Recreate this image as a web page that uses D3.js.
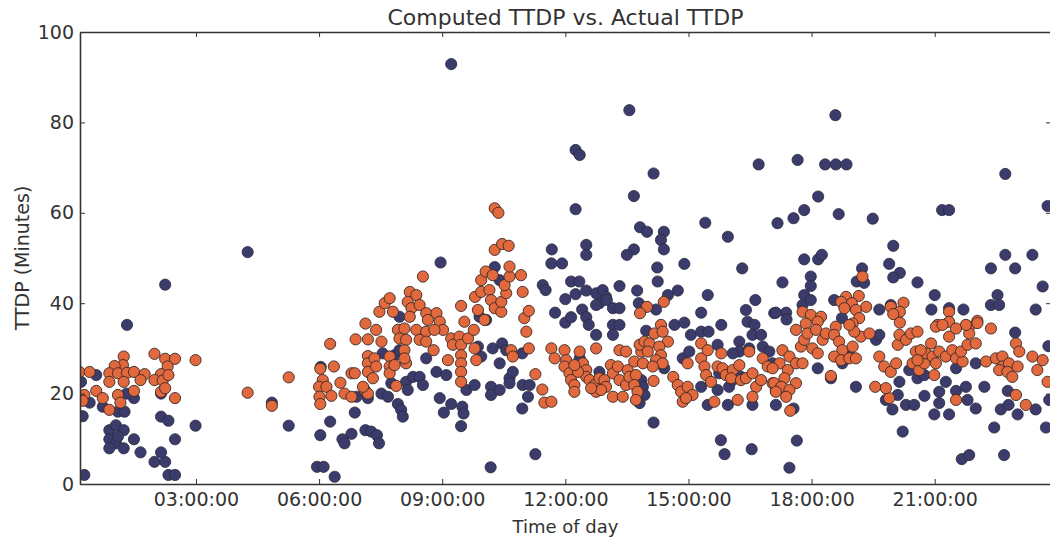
<!DOCTYPE html>
<html>
<head>
<meta charset="utf-8">
<script src="https://cdn.jsdelivr.net/npm/d3@7/dist/d3.min.js"></script>
<style>
  body { margin: 0; background: #fff; }
  svg { display: block; font-family: "DejaVu Sans", sans-serif; }
</style>
</head>
<body>
<svg id="chart" width="1050" height="542"></svg>
<script>
// time of day in hours, TTDP in minutes
const actualPoints = [
  [2.25,44.1],[1.32,35.2],[0.28,2],[2.33,2],[2.49,2],[1.99,4.9],[2.25,4.9],[2.15,7],[1.65,7],[2.49,9.9],[1.49,9.9],
  [0.89,11.9],[1.05,13.0],[1.24,11.9],[0.89,9.9],[1.05,9.0],[0.89,7.9],[1.24,7.9],[1.10,10.5],
  [2.15,14.9],[2.33,14.0],[0.24,15],[1.10,16],[1.26,16],[0.73,17.1],[0.41,18.0],[1.49,19],
  [2.99,12.9],[5.26,12.9],[4.85,18],[6.03,10.8],[5.95,3.8],[6.11,3.8],[0.57,24.1],[0.2,22.6],[2.15,20],[1.31,20],[6.04,25.9],[4.26,51.3],
  [9.22,92.9],[8.96,49],[6.38,1.6],[6.27,13.8],[6.57,9.9],[6.62,9.0],[6.79,11.1],[7.13,11.9],[7.27,11.6],[7.41,10.8],[7.46,9.0],[6.87,15.8],[10.18,3.7],[9.46,12.8],
  [7.92,17.7],[8.0,16.4],[8.04,14.9],[9.04,15.8],[9.22,17.7],[9.49,17.1],[9.52,15.6],[8.94,19],[8.86,24.8],[9.10,24.1],[8.61,27.8],
  [8.12,22.6],[8.29,23.7],[8.45,23.7],[8.53,21.9],[8.16,20.8],[7.52,20],[7.68,19.3],[7.76,22.3],[7.19,19],[6.91,19.3],[7.84,28.5],[7.96,29.6],[7.55,28.9],[7.96,37],
  [9.91,37],[10.07,36.3],[10.28,48],[10.40,45.1],[10.23,30],[10.46,31.1],[10.56,29.6],[10.40,26.7],
  [10.19,21.5],[10.19,19.7],[10.40,20.8],[10.64,23.4],[10.72,24.8],[10.64,22.3],[10.96,21.9],[10.95,16.7],[11.09,19.3],[10.95,28.9],[11.13,21.9],
  [9.59,20.8],[9.79,21.9],[9.95,28.2],[9.87,30.4],
  [12.25,73.9],[12.35,72.8],[14.15,68.7],[16.71,70.7],[13.67,63.7],[12.25,60.8],[15.41,57.8],[17.17,57.7],
  [13.82,56.8],[13.99,55.8],[14.40,55.8],[14.33,54],[14.40,51.9],[15.96,54.7],[12.51,52.9],[12.51,50.7],
  [11.67,51.9],[11.66,48.8],[11.92,48.8],[13.67,51.9],[13.50,50.7],[14.90,48.7],[14.24,47.9],[14.25,44.8],[16.31,47.7],
  [11.45,44],[11.52,42.9],[12.14,44.8],[12.34,44.8],[12.25,42],[12.0,40.9],[12.51,42.8],
  [12.75,42.2],[12.91,42.9],[12.99,41.4],[12.83,40],[12.75,39.6],[13.01,40.7],[13.32,43.8],[13.75,42.8],[14.74,42.8],[14.50,41.8],[15.47,41.8],[16.63,40.7],[16.40,38.5],
  [11.75,37.9],[12.0,35.7],[12.14,36.9],[12.41,38.6],[12.51,36.9],[12.57,35.2],[13.16,38.9],[13.32,38.9],[13.16,35.2],[13.32,35.2],[13.79,40],[14.21,38.6],[15.31,37.9],
  [15.80,35.2],[16.44,35.9],[16.61,35.2],[17.09,37.8],[14.66,35.2],[14.90,35.7],[13.56,82.7],
  [11.27,6.6],[14.15,13.6],[15.79,9.7],[15.88,6.6],[16.54,7.7],
  [12.75,33],[13.16,33],[13.97,33.9],[15.06,33],[15.31,33.7],[15.49,33.7],[16.56,33],[16.77,33],
  [16.24,31.5],[16.24,29.3],[16.08,28.9],[15.71,30.8],[16.48,30],[16.81,30.4],[16.97,29.3],
  [12.35,27.8],[12.83,24.8],[13.85,23],[13.89,21.5],[13.93,19.7],[13.81,17.9],[14.41,25.6],[14.86,27.8],[15.02,29.3],
  [15.31,21.5],[15.71,20.8],[15.99,21.5],[16.08,23],[15.47,17.5],[15.96,17.5],[16.56,17.5],[17.13,17.5],[15.75,24.5],[16.28,23.7],
  [17.66,71.7],[18.33,70.7],[18.59,70.7],[18.85,70.7],[22.72,68.6],[18.16,63.6],[17.82,60.6],[17.56,58.8],[18.66,59.7],[19.49,58.7],[21.18,60.6],[21.35,60.6],[23.75,61.5],
  [19.99,52.7],[17.82,49.7],[18.16,49.7],[18.25,50.7],[19.89,48.7],[20.15,46.7],[19.99,45.7],[19.23,47.7],[20.58,44.6],[17.98,45.9],[17.98,43.8],[17.29,44.6],[19.10,44.8],[19.28,44.5],
  [22.37,47.7],[22.72,50.7],[22.96,47.7],[23.38,50.7],[23.63,43.7],[22.53,41.8],[22.37,39.6],[22.57,39.6],[21.00,41.8],[17.82,41.8],[17.78,39.6],[17.98,40.7],
  [17.13,37.9],[17.38,37.9],[17.39,36.4],[18.55,40.7],[19.65,38.6],[19.93,39.6],[20.92,38.6],[21.35,38.9],[21.70,38.6],[23.46,38.6],[18.74,36.7],[18.58,81.6],
  [17.46,3.6],[17.64,9.6],[20.22,11.6],[21.66,5.5],[21.84,6.4],[22.69,6.4],[22.45,12.5],[23.71,12.5],[17.56,16.7],
  [19.08,21.5],[18.15,25.6],[18.47,23.4],[18.75,26.7],[18.92,28.5],[19.57,31.9],[19.65,33],
  [20.14,22.6],[19.97,16.5],[19.81,18.6],[20.10,19.7],[20.30,17.5],[20.50,17.5],[20.38,25.2],[20.58,23.4],[20.75,24.1],[20.66,26.7],
  [20.75,19.5],[20.99,15.4],[21.11,20.4],[21.35,15.4],[21.11,17.9],[21.27,22.6],
  [21.52,20.6],[21.76,21.5],[21.80,18.6],[22.0,16.7],[21.52,25.6],[22.0,26.7],[22.21,21.5],
  [22.61,16.5],[22.80,17.5],[23.02,15.4],[22.78,20.6],[23.46,16.5],[22.96,33.5],[23.77,30.5],[23.79,18.6],[17.05,26.7]
];

const computedPoints = [
  [1.24,28.2],[1.99,28.8],[2.25,27.7],[2.49,27.7],[2.99,27.4],[1.22,26.3],[1.02,26.1],[2.31,26],[2.15,24.3],[0.16,24.8],[0.41,24.8],
  [0.89,24.5],[1.10,24.5],[1.32,24.6],[1.49,24.8],[1.75,24.3],[1.24,22.6],[0.89,22.6],[1.65,23],
  [1.99,23],[2.19,22.9],[2.33,24.1],[2.15,20.4],[2.25,21.2],[0.57,20.6],[0.28,19.7],[0.24,18.4],[0.73,19],[1.10,19.7],[1.16,18],[0.89,16.4],[1.49,20.6],[2.49,19],[4.26,20.2],[5.26,23.6],[4.85,17.3],
  [6.27,31],[6.03,25.5],[6.09,23],[6.0,21.5],[6.01,19.3],[6.03,17.7],[6.18,21.5],[6.30,19.5],[6.36,26],[6.52,22.4],[6.62,20],[6.79,19.3],[6.89,32],[6.79,24.5],[6.87,24.5],
  [7.13,35.5],[7.19,32],[7.39,34.1],[7.52,31.5],[7.11,20.8],[7.19,20],[7.07,21.5],
  [7.19,28.3],[7.19,26.7],[7.19,24.8],[7.31,23.4],[7.35,27.8],[7.39,26],
  [7.72,28.2],[7.72,26],[7.72,24.5],[7.84,26.3],[7.88,21.7],[7.47,38.1],[7.60,40],[7.72,41.1],[7.80,38.1],
  [7.92,34.1],[8.08,34.4],[7.96,32.2],[8.12,31.9],[8.08,29.6],[8.12,26.7],[8.08,27.8],
  [8.21,42.5],[8.37,41.8],[8.16,40.3],[8.25,38.9],[8.45,39.6],[8.21,37],
  [8.37,34.1],[8.61,37.8],[8.65,36.3],[8.61,33.7],[8.45,31.9],[8.61,31.5],
  [8.86,37.8],[8.94,35.9],[9.02,34.1],[8.81,34.1],[8.79,29.6],[8.53,45.9],[9.14,27.4],[9.22,32.2],[9.26,30.8],[9.46,39.4],[9.54,35.9],
  [9.42,32.6],[9.46,30.8],[9.46,28.5],[9.46,26.7],[9.46,24.8],[9.46,22.6],
  [9.63,32.2],[9.77,34.1],[9.79,30],[9.83,27.4],
  [9.80,41.4],[9.95,42.5],[9.87,38.5],[10.03,36.3],[9.95,45.1],[10.06,47],[10.23,46.2],
  [10.15,42.9],[10.19,40.7],[10.28,38.9],[10.44,38.1],[10.44,40.3],[10.56,42.2],[10.52,44],[10.64,45.9],[10.64,48.1],
  [10.28,51.8],[10.46,53.1],[10.62,52.7],[10.28,61],[10.37,60],
  [10.92,46.2],[10.96,42.5],[11.0,36.7],[11.05,33.7],[10.68,29.6],[10.72,28.2],
  [11.11,38.3],[13.99,39.2],[13.82,37.8],[14.40,40.3],[14.33,35.2],
  [11.11,30],[11.27,24.3],[11.44,20.9],[11.49,18],[11.66,18.2],
  [11.66,30],[11.74,27.8],[11.98,29.6],[12.02,27.4],[11.98,26],[12.10,24.5],[12.14,23],[12.22,21.9],[12.22,20.4],[12.35,29.3],[12.43,26.7],[12.51,25.2],[12.51,23.7],[12.31,24.8],[12.22,26.3],
  [12.59,23],[12.71,21.9],[12.75,20.4],[12.83,23.4],[12.95,23],[12.99,21.5],[12.87,20.8],[12.63,21.2],
  [12.75,30],[13.11,26.3],[13.16,24.5],[13.28,26],[13.32,23],[13.16,19.3],[13.40,19.3],[13.48,21.9],[13.52,25.2],[13.56,23.7],[13.68,27.1],[13.72,24.1],[13.68,21.9],[13.76,20.4],[13.72,18.6],[13.89,26.7],[13.85,29.3],
  [13.32,29.6],[13.48,29.3],
  [13.81,30.8],[13.93,31.5],[14.05,31.1],[14.01,29.3],[14.17,33.3],[14.37,33.7],[14.50,31.5],[14.29,30.4],[14.33,28.5],[14.21,27.4],[14.37,26.7],[14.13,26],
  [14.15,22.8],[14.63,23.7],[14.74,21.9],[14.82,20.4],[14.86,18.2],[14.98,21.5],[15.10,19.7],[14.94,19],
  [14.98,26.7],[15.31,31.1],[15.31,27.8],[15.47,29.6],[15.39,26],[15.43,24.1],[15.55,22.6],[15.63,18.2],
  [15.80,28.9],[15.71,26],[15.83,25.6],[15.91,24.1],[16.08,25.2],[16.04,23.4],[16.24,26.3],[16.28,23],[16.20,18.6],[16.40,23.4],[16.56,24.5],[16.65,21.5],[16.56,19.3],[16.77,23],[16.81,27.8],[16.93,26],[17.05,22.3],[17.13,20.8],[16.48,29.3],
  [19.24,45.9],[18.84,41.4],[19.15,41.6],[18.72,40.3],[18.98,40],[19.33,39.2],[19.08,38.5],[18.80,38.9],[19.16,36.7],[19.00,35.5],
  [17.78,38.1],[17.98,37.4],[18.23,37],[18.15,35.9],[17.86,35.5],
  [20.24,40.1],[19.93,39.2],[20.15,38.1],[19.99,37.6],[20.15,35.7],
  [21.35,38.1],[21.35,35.9],[21.07,35.2],[22.04,36.1],[22.37,34.4],[21.84,34.8],[18.59,34.8],
  [17.29,29.6],[17.46,28.2],[17.22,26.7],[17.05,25.6],[17.42,25.2],[17.62,26.7],[17.78,26.7],[17.34,23.4],[17.09,22.3],[17.26,21.5],[17.62,22.3],[17.46,20.8],[17.38,19.3],[17.13,20.4],[17.48,16.2],
  [17.62,34.1],[17.74,30.4],[17.82,31.9],[17.90,33.3],[18.02,30],[18.15,28.9],[18.27,31.9],[18.11,34.1],
  [18.47,23.9],
  [18.35,33.3],[18.55,33],[18.67,31.5],[18.75,29.6],[18.55,28.2],[18.72,27.4],[18.92,27.8],[19.08,27.8],[19.00,30.4],[19.20,32.6],[19.41,33.3],[19.04,33.7],[18.92,35.2],
  [19.55,21.5],
  [19.65,28.2],[19.77,26],[19.93,24.8],[20.06,26.7],[20.10,30.8],[20.14,33],[20.30,31.9],[20.42,33.3],[20.58,33.7],[20.54,29.3],[20.46,26.7],[20.62,25.2],[20.75,26.7],[20.79,28.9],[20.91,31.1],[20.95,28.2],
  [21.03,26.7],[21.11,29.3],[21.27,28.2],[21.35,32.6],[21.43,29.6],[21.52,27.8],[21.68,27.1],[21.64,29.3],[21.80,30.8],[21.84,33.3],[22.00,31.1],[21.76,35.2],[22.04,35.6],
  [21.03,34.8],[21.19,35.2],[21.52,34.4],[20.66,29.6],[20.58,27.4],
  [19.89,19],[19.81,21.2],[21.52,18.6],[20.99,24.1],
  [22.25,27.1],[22.49,27.8],[22.65,28.2],[22.65,26],[22.81,26.7],[22.57,25.2],[22.77,24.8],[22.89,23.7],[22.98,19.7],[23.02,26],[22.98,31.1],[23.06,29.3],[23.38,28.2],[23.50,25.2],[23.63,27.4],[23.75,22.6],[23.22,17.5]
];

const yTicks = [0, 20, 40, 60, 80, 100];
const xTickHours = [3, 6, 9, 12, 15, 18, 21];
const dayRange = ["00:10:30", "23:50:00"];

const svg = d3.select('#chart');
const margin = { top: 32, right: -1, bottom: 58, left: 80 };
const width = 1050 - margin.left - margin.right;
const height = 542 - margin.top - margin.bottom;

const base = new Date(2016, 0, 1);
const toDate = h => new Date(base.getTime() + h * 3600e3);
const parseT = d3.timeParse('%H:%M:%S');
const asDay = t => { const p = parseT(t); return new Date(2016, 0, 1, p.getHours(), p.getMinutes(), p.getSeconds()); };

const x = d3.scaleTime()
  .domain(dayRange.map(asDay))
  .range([0, width]);

const y = d3.scaleLinear()
  .domain([0, 100])
  .range([height, 0]);

const g = svg.append('g')
  .attr('transform', `translate(${margin.left},${margin.top})`);

g.append('clipPath').attr('id', 'plot-clip')
  .append('rect').attr('width', width).attr('height', height);

// points
const dots = g.append('g').attr('clip-path', 'url(#plot-clip)');

dots.selectAll('circle.actual')
  .data(actualPoints)
  .enter()
  .append('circle')
  .attr('class', 'actual')
  .attr('cx', d => x(toDate(d[0])))
  .attr('cy', d => y(d[1]))
  .attr('r', 5.6)
  .attr('fill', '#3b3c6b')
  .attr('stroke', '#2a2a40')
  .attr('stroke-width', 0.8);

dots.selectAll('circle.computed')
  .data(computedPoints)
  .enter()
  .append('circle')
  .attr('class', 'computed')
  .attr('cx', d => x(toDate(d[0])))
  .attr('cy', d => y(d[1]))
  .attr('r', 5.6)
  .attr('fill', '#e2683d')
  .attr('stroke', '#3a2a26')
  .attr('stroke-width', 0.9);

// axes, ticks inside like the original
const xTicks = xTickHours.map(toDate);
const fmt = d3.timeFormat('%H:%M:%S');

const xAxis = g.append('g')
  .attr('transform', `translate(0,${height})`)
  .call(d3.axisBottom(x).tickValues(xTicks).tickFormat(fmt).tickSizeInner(-5).tickSizeOuter(0).tickPadding(9));

const xTop = g.append('g')
  .call(d3.axisTop(x).tickValues(xTicks).tickFormat('').tickSizeInner(-5).tickSizeOuter(0));

const yAxis = g.append('g')
  .call(d3.axisLeft(y).tickValues(yTicks).tickSizeInner(-5).tickSizeOuter(0).tickPadding(6));

const yRight = g.append('g')
  .attr('transform', `translate(${width},0)`)
  .call(d3.axisRight(y).tickValues(yTicks).tickFormat('').tickSizeInner(-5).tickSizeOuter(0));

[xAxis, xTop, yAxis, yRight].forEach(a => {
  a.select('.domain').attr('stroke', '#333').attr('stroke-width', 1.6);
  a.selectAll('.tick line').attr('stroke', '#333').attr('stroke-width', 1);
  a.selectAll('text')
    .attr('fill', '#333')
    .style('font-size', '19px')
    .style('font-family', '"DejaVu Sans", sans-serif');
});

// labels
svg.append('text')
  .attr('x', margin.left + width / 2)
  .attr('y', 25)
  .attr('text-anchor', 'middle')
  .attr('fill', '#333')
  .style('font-size', '22px')
  .text('Computed TTDP vs. Actual TTDP');

svg.append('text')
  .attr('x', margin.left + width / 2)
  .attr('y', 533)
  .attr('text-anchor', 'middle')
  .attr('fill', '#333')
  .style('font-size', '18px')
  .text('Time of day');

svg.append('text')
  .attr('transform', `translate(29,${margin.top + height / 2}) rotate(-90)`)
  .attr('text-anchor', 'middle')
  .attr('fill', '#333')
  .style('font-size', '19px')
  .text('TTDP (Minutes)');
</script>
</body>
</html>
